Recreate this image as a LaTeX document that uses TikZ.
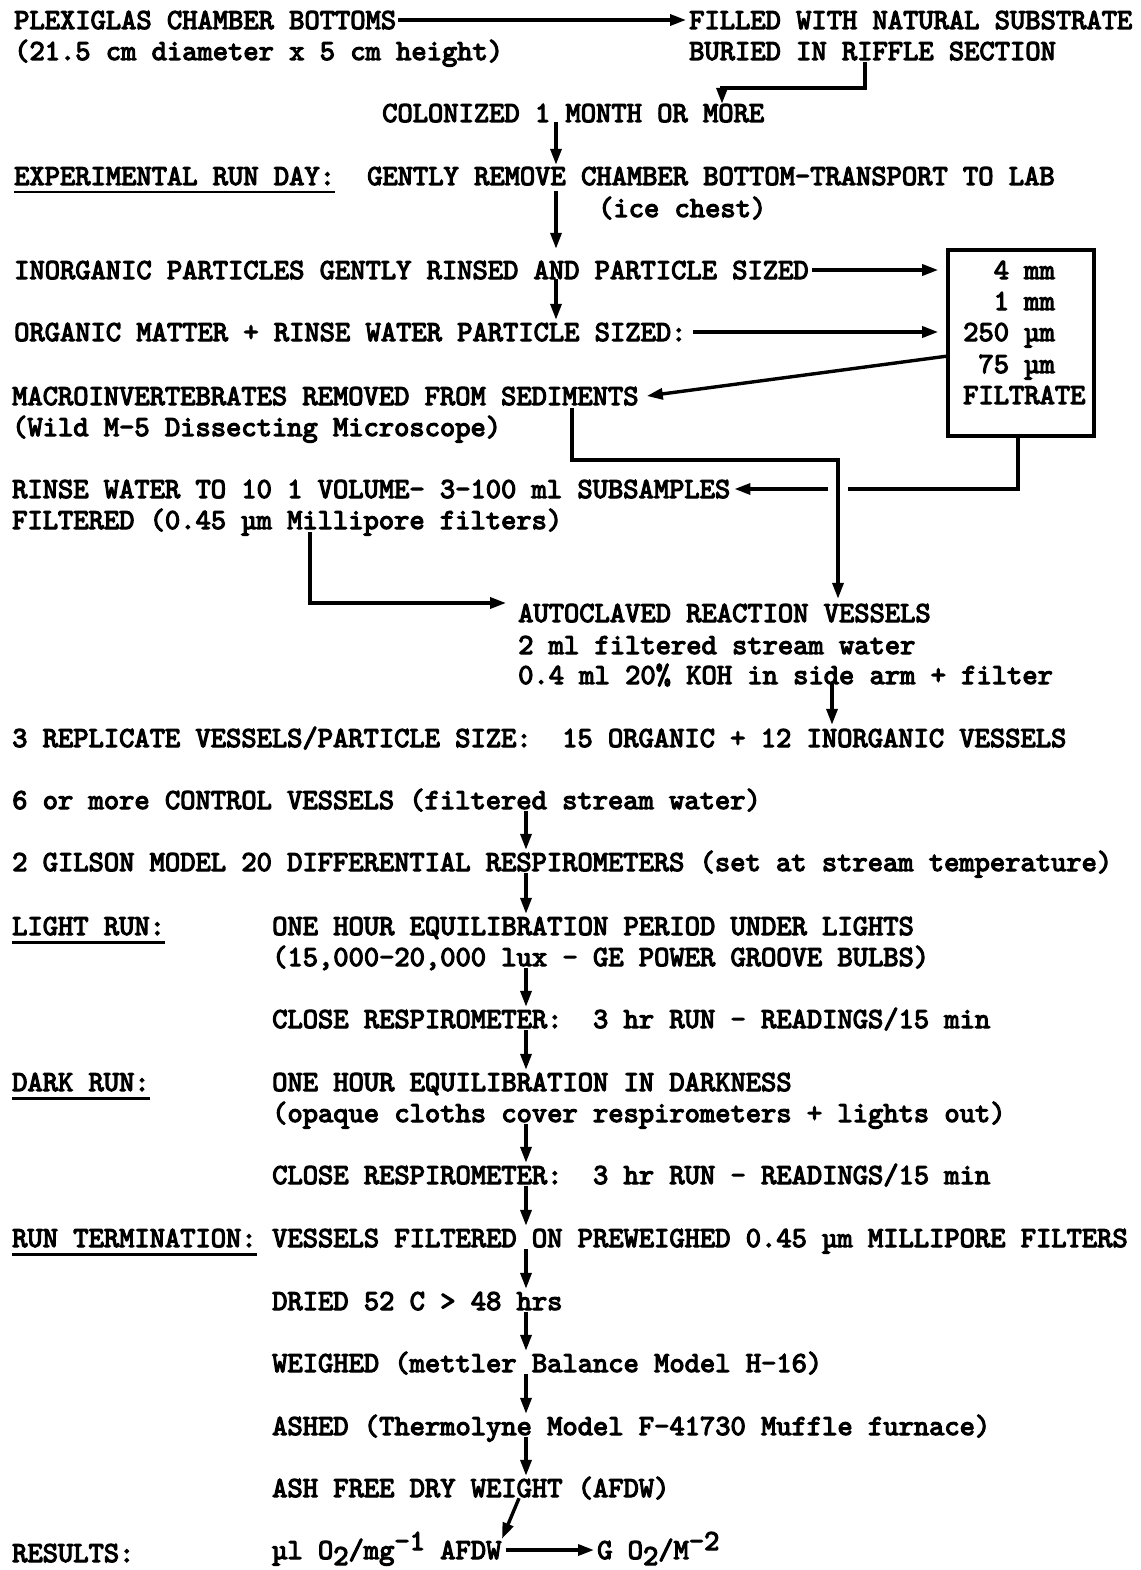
\documentclass[tikz,border=0pt]{standalone}
\usepackage{fontspec}
\usetikzlibrary{arrows.meta}
\newfontfamily\tw{lmmono10-regular.otf}[AutoFakeBold=4]
\begin{document}
\begin{tikzpicture}[x=1pt,y=-1pt,
  t/.style={inner sep=0pt, anchor=base west, text height=18pt, text depth=0pt,
    font=\tw\bfseries\fontsize{29.1pt}{31pt}\selectfont\frenchspacing},
  arr/.style={line width=3.4pt, -{Triangle[length=16pt,width=11pt]}},
  ln/.style={line width=3.4pt},
  ul/.style={line width=2.6pt},
  boxst/.style={draw, line width=3.6pt, inner sep=0pt, minimum width=146pt, minimum height=186pt}]
\useasboundingbox (0,0) rectangle (1140,1570);
% ---- text nodes (anchor at baseline = centre + 9)
\node[t] (plex)  at (14,29)  {PLEXIGLAS CHAMBER BOTTOMS};
\node[t] (plex2) at (14,60)  {(21.5 cm diameter x 5 cm height)};
\node[t] (fill)  at (689,29) {FILLED WITH NATURAL SUBSTRATE};
\node[t] (bur)   at (689,60) {BURIED IN RIFFLE SECTION};
\node[t] (col)   at (382,122) {COLONIZED 1 MONTH OR MORE};
\node[t] (exp)   at (14,185) {EXPERIMENTAL RUN DAY:};
\node[t] (gent)  at (367,185) {GENTLY REMOVE CHAMBER BOTTOM-TRANSPORT TO LAB};
\node[t] (ice)   at (598,217) {(ice chest)};
\node[t] (inorg) at (14,279) {INORGANIC PARTICLES GENTLY RINSED AND PARTICLE SIZED};
\node[t] (org)   at (14,341) {ORGANIC MATTER + RINSE WATER PARTICLE SIZED:};
\node[t] (macro) at (12,405) {MACROINVERTEBRATES REMOVED FROM SEDIMENTS};
\node[t] (wild)  at (12,436) {(Wild M-5 Dissecting Microscope)};
\node[t] (rinse) at (12,498) {RINSE WATER TO 10 1 VOLUME- 3-100 ml SUBSAMPLES};
\node[t] (filt)  at (12,529) {FILTERED (0.45 µm Millipore filters)};
% ---- sieve box
\node[boxst] (box) at (1021,343) {};
\node[t] (s1) at (963,279) {\ \ 4 mm};
\node[t] (s2) at (963,310) {\ \ 1 mm};
\node[t] (s3) at (963,341) {250 µm};
\node[t] (s4) at (963,373) {\ 75 µm};
\node[t] (s5) at (963,404) {FILTRATE};
% ---- reaction vessels
\node[t] (auto)  at (518,622) {AUTOCLAVED REACTION VESSELS};
\node[t] (strw)  at (518,654) {2 ml filtered stream water};
\node[t] (koh)   at (518,684) {0.4 ml 20\% KOH in side arm + filter};
\node[t] (rep)   at (12,747) {3 REPLICATE VESSELS/PARTICLE SIZE:\ \ 15 ORGANIC + 12 INORGANIC VESSELS};
\node[t] (ctrl)  at (12,809) {6 or more CONTROL VESSELS (filtered stream water)};
\node[t] (gil)   at (12,871) {2 GILSON MODEL 20 DIFFERENTIAL RESPIROMETERS (set at stream temperature)};
\node[t] (light) at (12,935) {LIGHT RUN:};
\node[t] (eq1)   at (272,935) {ONE HOUR EQUILIBRATION PERIOD UNDER LIGHTS};
\node[t] (lux)   at (272,966) {(15,000-20,000 lux - GE POWER GROOVE BULBS)};
\node[t] (close1) at (272,1028) {CLOSE RESPIROMETER:\ \ 3 hr RUN - READINGS/15 min};
\node[t] (dark)  at (12,1091) {DARK RUN:};
\node[t] (eq2)   at (272,1091) {ONE HOUR EQUILIBRATION IN DARKNESS};
\node[t] (opq)   at (272,1122) {(opaque cloths cover respirometers + lights out)};
\node[t] (close2) at (272,1184) {CLOSE RESPIROMETER:\ \ 3 hr RUN - READINGS/15 min};
\node[t] (term)  at (12,1247) {RUN TERMINATION:};
\node[t] (vf)    at (272,1247) {VESSELS FILTERED ON PREWEIGHED 0.45 µm MILLIPORE FILTERS};
\node[t] (dried) at (272,1310) {DRIED 52 C > 48 hrs};
\node[t] (weigh) at (272,1372) {WEIGHED (mettler Balance Model H-16)};
\node[t] (ashed) at (272,1435) {ASHED (Thermolyne Model F-41730 Muffle furnace)};
\node[t] (afdw)  at (272,1497) {ASH FREE DRY WEIGHT (AFDW)};
\node[t] (res)   at (12,1562) {RESULTS:};
\node[t] (mu)    at (272,1559) {µl O\raisebox{-6pt}{2}/mg\raisebox{9pt}{-1} AFDW};
\node[t] (g)     at (597,1559) {G O\raisebox{-6pt}{2}/M\raisebox{9pt}{-2}};
% ---- underlines
\foreach \n in {exp,light,dark,term}
  \draw[ul] ([yshift=-7pt]\n.south west) -- ([yshift=-7pt]\n.south east);
% ---- helper coordinates
\coordinate (k1) at (865,88);
\coordinate (k2) at (722,88);
\coordinate (xa) at (556,0);
\coordinate (bm) at (948,356);
\coordinate (m1) at (572,460);
\coordinate (m2) at (838,460);
\coordinate (f1) at (1018,0);
\coordinate (f2) at (848,0);
\coordinate (f3) at (828,0);
\coordinate (r1) at (310,603);
\coordinate (xk) at (832,0);
\coordinate (xb) at (526,0);
\coordinate (d1) at (519,0);
\coordinate (d2) at (502,0);
% ---- connectors
\draw[arr] ([xshift=2pt]plex.east) -- ([xshift=-3pt]fill.west);
\draw[arr] ([yshift=-2pt]bur.south -| k1) -- (k1) -- (k2) -- (col.north -| k2);
\draw[arr] (col.south -| xa) -- ([yshift=2pt]gent.north -| xa);
\draw[arr, shorten >=12pt] ([yshift=-6pt]gent.south -| xa) -- (inorg.north -| xa);
\draw[arr] (inorg.south -| xa) -- ([yshift=3pt]org.north -| xa);
\draw[arr] ([xshift=3pt]inorg.east) -- ([xshift=-8pt]box.west |- inorg.east);
\draw[arr] ([xshift=6pt]org.east) -- ([xshift=-8pt]box.west |- org.east);
\draw[arr] (bm) -- ([xshift=8pt]macro.east);
\draw[arr] ([yshift=-3pt]macro.south -| m1) -- (m1) -- (m2) -- ([yshift=5pt]auto.north -| m2);
\draw[ln] (box.south -| f1) -- (f1 |- rinse.east) -- (f2 |- rinse.east);
\draw[arr] (f3 |- rinse.east) -- ([xshift=4pt]rinse.east);
\draw[arr] ([yshift=-3pt]filt.south -| r1) -- (r1) -- ([xshift=-12pt]auto.west |- r1);
\draw[arr] (koh.south -| xk) -- ([yshift=4pt]rep.north -| xk);
\foreach \a/\b in {ctrl/gil, gil/eq1, lux/close1, close1/eq2, opq/close2, close2/vf, vf/dried, dried/weigh, weigh/ashed, ashed/afdw}
  \draw[arr] ([yshift=-2pt]\a.south -| xb) -- ([yshift=3pt]\b.north -| xb);
\draw[arr] ([yshift=-1pt]afdw.south -| d1) -- ([yshift=2pt]mu.north -| d2);
\draw[arr] ([xshift=4pt]mu.east) -- ([xshift=-3pt]g.west);
\end{tikzpicture}
\end{document}
